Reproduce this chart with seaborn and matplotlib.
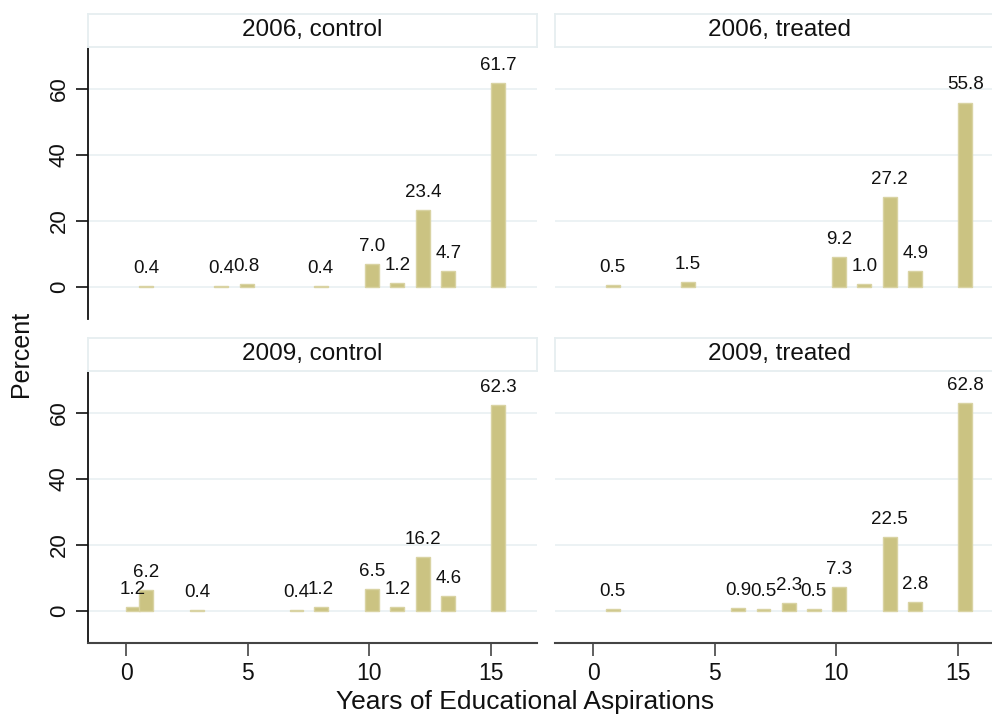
import numpy as np
import pandas as pd
import matplotlib
matplotlib.use("Agg")
import matplotlib.pyplot as plt
import seaborn as sns

# ---- data ----
panel_years = ["2006", "2006", "2009", "2009"]
panel_groups = ["control", "treated", "control", "treated"]

x_2006_control = [0.8, 3.9, 4.95, 8.0, 10.1, 11.15, 12.2, 13.25, 15.3]
pct_2006_control = [0.4, 0.4, 0.8, 0.4, 7.0, 1.2, 23.4, 4.7, 61.7]

x_2006_treated = [0.8, 3.9, 10.1, 11.15, 12.2, 13.25, 15.3]
pct_2006_treated = [0.5, 1.5, 9.2, 1.0, 27.2, 4.9, 55.8]

x_2009_control = [0.27, 0.8, 2.9, 7.0, 8.0, 10.1, 11.15, 12.2, 13.25, 15.3]
pct_2009_control = [1.2, 6.2, 0.4, 0.4, 1.2, 6.5, 1.2, 16.2, 4.6, 62.3]

x_2009_treated = [0.8, 5.96, 7.0, 8.04, 9.07, 10.1, 12.2, 13.25, 15.3]
pct_2009_treated = [0.5, 0.9, 0.5, 2.3, 0.5, 7.3, 22.5, 2.8, 62.8]

x_ticks = [0, 5, 10, 15]
y_ticks = [0, 20, 40, 60]
x_title = "Years of Educational Aspirations"
y_title = "Percent"

series = {
    ("2006", "control"): (x_2006_control, pct_2006_control),
    ("2006", "treated"): (x_2006_treated, pct_2006_treated),
    ("2009", "control"): (x_2009_control, pct_2009_control),
    ("2009", "treated"): (x_2009_treated, pct_2009_treated),
}
rows = []
for (yr, grp), (xs, ps) in series.items():
    for xv, pv in zip(xs, ps):
        rows.append({"year": yr, "group": grp, "x": xv, "pct": pv})
df = pd.DataFrame(rows)

# ---- style ----
sns.set_theme(style="white")
plt.rcParams["font.family"] = ["Liberation Sans", "DejaVu Sans"]

W, H = 992, 715
fig = plt.figure(figsize=(W / 100, H / 100), dpi=100)
fig.patch.set_facecolor("white")

BAR = "#CBC382"
BAR_EDGE = "#D9D3A3"
GRID = "#EAF1F3"
HEAD_EDGE = "#E6EEF0"

# pixel geometry
col_x = [88, 555]
col_w = 449
row_top = [47, 371]
row_h = 272
head_h = 32.5
xlim = (-1.58, 16.9)
ylim = (-9.7, 72.6)

def fx(px):
    return px / W

def fy(py):
    return 1 - py / H

for i, (yr, grp) in enumerate(zip(panel_years, panel_groups)):
    r, c = divmod(i, 2)
    x0 = col_x[c]
    top = row_top[r]
    ax = fig.add_axes([fx(x0), fy(top + row_h), col_w / W, row_h / H])
    sub = df[(df["year"] == yr) & (df["group"] == grp)].reset_index(drop=True)
    uniq = np.unique(sub["x"].to_numpy())
    native = np.min(np.diff(uniq)) if len(uniq) > 1 else 1.0
    sns.barplot(data=sub, x="x", y="pct", native_scale=True,
                width=0.57 / native, color=BAR, saturation=1,
                edgecolor=BAR_EDGE, linewidth=1.0, errorbar=None, ax=ax)
    for cont in ax.containers:
        ax.bar_label(cont, fmt="%.1f", padding=6.5, fontsize=13.5, color="#111111")

    ax.set_xlim(*xlim)
    ax.set_ylim(*ylim)
    ax.set_xlabel("")
    ax.set_ylabel("")
    ax.set_facecolor("white")
    ax.set_axisbelow(True)
    ax.set_yticks(y_ticks)
    ax.yaxis.grid(True, color=GRID, linewidth=1.3)
    ax.xaxis.grid(False)
    for s in ["top", "right"]:
        ax.spines[s].set_visible(False)

    # y axis only on left column
    if c == 0:
        ax.spines["left"].set_visible(True)
        ax.spines["left"].set_color("#111111")
        ax.spines["left"].set_linewidth(1.3)
        ax.set_yticklabels([str(t) for t in y_ticks])
        ax.tick_params(axis="y", left=True, length=9, width=1.2, color="#111111",
                       pad=4, labelsize=16, labelrotation=90, labelcolor="#111111")
        for lab in ax.get_yticklabels():
            lab.set_va("center")
    else:
        ax.spines["left"].set_visible(False)
        ax.tick_params(axis="y", left=False, labelleft=False)

    # x axis only on bottom row
    if r == 1:
        ax.spines["bottom"].set_visible(True)
        ax.spines["bottom"].set_color("#444444")
        ax.spines["bottom"].set_linewidth(1.5)
        ax.set_xticks(x_ticks)
        ax.set_xticklabels([str(t) for t in x_ticks])
        ax.tick_params(axis="x", bottom=True, length=9, width=1.2, color="#444444",
                       pad=5, labelsize=16.5, labelcolor="#111111")
    else:
        ax.spines["bottom"].set_visible(False)
        ax.set_xticks(x_ticks)
        ax.tick_params(axis="x", bottom=False, labelbottom=False)

    # header strip
    hax = fig.add_axes([fx(x0), fy(top - 0.5), col_w / W, head_h / H])
    hax.set_xticks([])
    hax.set_yticks([])
    hax.set_facecolor("white")
    for s in hax.spines.values():
        s.set_visible(True)
        s.set_color(HEAD_EDGE)
        s.set_linewidth(1.3)
    hax.text(0.5, 0.5, f"{yr}, {grp}", transform=hax.transAxes,
             ha="center", va="center", fontsize=17.5, color="#111111")

fig.text(fx(21), fy(354), y_title, rotation=90, ha="center", va="center",
         fontsize=18, color="#111111")
fig.text(fx(525), fy(709), x_title, ha="center", va="baseline",
         fontsize=19, color="#111111")

fig.savefig("out.png", dpi=100, facecolor="white")
